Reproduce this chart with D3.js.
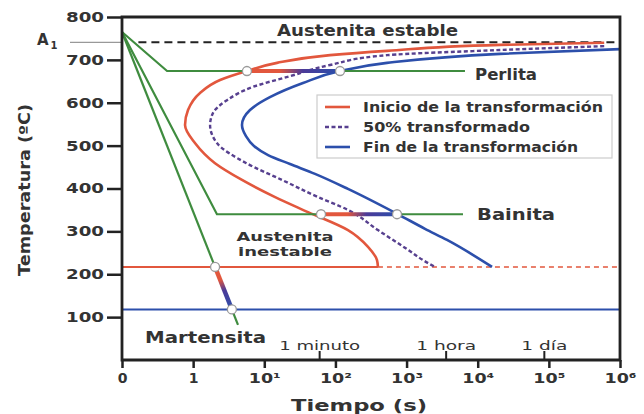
<!DOCTYPE html>
<html>
<head>
<meta charset="utf-8">
<script src="https://cdn.jsdelivr.net/npm/d3@7"></script>
<style>
  body { margin: 0; background: #fff; }
  text { font-family: "DejaVu Sans", Verdana, sans-serif; fill: #333; }
</style>
</head>
<body>
<svg id="chart" width="644" height="414"></svg>
<script>
// axis ticks
const yTicks = [100, 200, 300, 400, 500, 600, 700, 800];
const xTickValues = [0.1, 1, 10, 100, 1000, 1e4, 1e5, 1e6];
const xTickLabels = ["0", "1", "10¹", "10²", "10³", "10⁴", "10⁵", "10⁶"];
const timeValues = [60, 3600, 86400];
const timeLabels = ["1 minuto", "1 hora", "1 día"];

// temperatures (ºC)
const A1 = 741;
const Ms = 217;
const Mf = 118;

// TTT curves [time s, temp ºC], ordered from top to bottom
const inicio = [[6e5, 740], [2.06e4, 735], [531, 721], [84, 711], [15.1, 693], [5.7, 674], [2.39, 653],
  [1.25, 623], [0.847, 583], [0.769, 548], [1.06, 506], [2.03, 459], [4.86, 420], [14.2, 380],
  [41.2, 345], [150, 303], [287, 264], [384, 233], [396, 217]];
const mitad = [[6e5, 732], [2.06e4, 723], [531, 711], [84, 688], [23, 662], [6.93, 637], [2.99, 606],
  [1.9, 576], [1.73, 548], [2.16, 506], [5.6, 459], [17.7, 420], [56.9, 380], [150, 350],
  [396, 303], [1047, 257], [1702, 233], [2512, 217]];
const fin = [[1e6, 725], [2.06e4, 714], [531, 693], [116, 674], [35, 646], [12, 613], [6.3, 583],
  [4.86, 548], [5.53, 522], [7.16, 499], [11.3, 478], [23, 457], [51.6, 434], [150, 399], [734, 341],
  [1815, 306], [3700, 280], [15900, 217]];

// cooling paths
const perlita = [[0.1, 765], [0.43, 674], [6620, 674]];
const bainita = [[0.1, 765], [2.16, 340], [6210, 340]];
const martensita = [[0.1, 765], [4.27, 82]];
const perlitaMarks = [5.7, 116];
const bainitaMarks = [62.7, 734];

const legendLabels = ["Inicio de la transformación", "50% transformado", "Fin de la transformación"];

const red = "#e2573d", purple = "#57408f", blue = "#2c4fab", green = "#3f8c3f", dark = "#222";

const svg = d3.select("#chart");
const x = d3.scaleLog().domain([0.1, 1e6]).range([122, 620]);
const y = d3.scaleLinear().domain([0, 800]).range([360, 17]);

const line = d3.line().x(d => x(d[0])).y(d => y(d[1]));
// temperature falls along each curve, so a monotone-in-y curve stays smooth
const smooth = d3.line().x(d => x(d[0])).y(d => y(d[1])).curve(d3.curveMonotoneY);

// gradients for transformation segments
const defs = svg.append("defs");
function grad(id, x1, y1, x2, y2, stops) {
  const g = defs.append("linearGradient").attr("id", id).attr("gradientUnits", "userSpaceOnUse")
    .attr("x1", x1).attr("y1", y1).attr("x2", x2).attr("y2", y2);
  stops.forEach(s => g.append("stop").attr("offset", s[0]).attr("stop-color", s[1]));
}

// stretched bold label helper
function label(t, xx, yy, fs, len, opts = {}) {
  const el = svg.append("text").attr("x", xx).attr("y", yy).attr("font-size", fs)
    .attr("font-weight", opts.weight || "bold").attr("fill", opts.fill || "#3a3a3a")
    .attr("text-anchor", opts.anchor || "start").text(t);
  if (len) el.attr("textLength", len).attr("lengthAdjust", "spacingAndGlyphs");
  return el;
}

// A1 reference
svg.append("line").attr("x1", 70).attr("x2", x(0.1)).attr("y1", y(A1)).attr("y2", y(A1))
  .attr("stroke", "#999").attr("stroke-width", 1.2);
svg.append("text").attr("x", 37).attr("y", y(A1) + 3).attr("font-size", 15).attr("font-weight", "bold")
  .attr("fill", "#444").text("A").append("tspan").attr("font-size", 10).attr("dx", 2).attr("dy", 4).text("1");
svg.append("line").attr("x1", x(0.17)).attr("x2", x(1e6)).attr("y1", y(A1)).attr("y2", y(A1))
  .attr("stroke", dark).attr("stroke-width", 2).attr("stroke-dasharray", "8,5");

// Ms / Mf
svg.append("line").attr("x1", x(0.1)).attr("x2", x(396)).attr("y1", y(Ms)).attr("y2", y(Ms))
  .attr("stroke", red).attr("stroke-width", 2);
svg.append("line").attr("x1", x(396)).attr("x2", x(1e6)).attr("y1", y(Ms)).attr("y2", y(Ms))
  .attr("stroke", red).attr("stroke-width", 1.6).attr("stroke-dasharray", "5,4");
svg.append("line").attr("x1", x(0.1)).attr("x2", x(1e6)).attr("y1", y(Mf)).attr("y2", y(Mf))
  .attr("stroke", blue).attr("stroke-width", 2);

// TTT curves
svg.append("path").datum(inicio).attr("d", smooth).attr("fill", "none").attr("stroke", red).attr("stroke-width", 2.6);
svg.append("path").datum(mitad).attr("d", smooth).attr("fill", "none").attr("stroke", purple)
  .attr("stroke-width", 2.4).attr("stroke-dasharray", "4,2.5");
svg.append("path").datum(fin).attr("d", smooth).attr("fill", "none").attr("stroke", blue).attr("stroke-width", 2.6);

// cooling paths
[perlita, bainita, martensita].forEach(p => {
  svg.append("path").datum(p).attr("d", line).attr("fill", "none").attr("stroke", green).attr("stroke-width", 2.2);
});

// transformation segments
const segStops = [[0, red], [0.35, red], [0.6, "#4b3a98"], [1, blue]];
grad("gP", x(perlitaMarks[0]), 0, x(perlitaMarks[1]), 0, segStops);
grad("gB", x(bainitaMarks[0]), 0, x(bainitaMarks[1]), 0, segStops);
svg.append("line").attr("x1", x(perlitaMarks[0])).attr("x2", x(perlitaMarks[1]))
  .attr("y1", y(perlita[1][1])).attr("y2", y(perlita[1][1])).attr("stroke", "url(#gP)").attr("stroke-width", 4);
svg.append("line").attr("x1", x(bainitaMarks[0])).attr("x2", x(bainitaMarks[1]))
  .attr("y1", y(bainita[1][1])).attr("y2", y(bainita[1][1])).attr("stroke", "url(#gB)").attr("stroke-width", 4);

// martensite crossing points along the straight cooling line
const m0 = [x(martensita[0][0]), y(martensita[0][1])], m1 = [x(martensita[1][0]), y(martensita[1][1])];
const atY = yy => m0[0] + (m1[0] - m0[0]) * (yy - m0[1]) / (m1[1] - m0[1]);
const ms = [atY(y(Ms)), y(Ms)], mf = [atY(y(Mf)), y(Mf)];
grad("gM", ms[0], ms[1], mf[0], mf[1], [[0, red], [0.3, red], [0.55, "#4b3a98"], [1, blue]]);
svg.append("line").attr("x1", ms[0]).attr("y1", ms[1]).attr("x2", mf[0]).attr("y2", mf[1])
  .attr("stroke", "url(#gM)").attr("stroke-width", 4.5);

// marker circles
const marks = [
  [x(perlitaMarks[0]), y(perlita[1][1])], [x(perlitaMarks[1]), y(perlita[1][1])],
  [x(bainitaMarks[0]), y(bainita[1][1])], [x(bainitaMarks[1]), y(bainita[1][1])], ms, mf];
svg.selectAll(".mk").data(marks).join("circle").attr("class", "mk")
  .attr("cx", d => d[0]).attr("cy", d => d[1]).attr("r", 4.5)
  .attr("fill", "#fff").attr("stroke", "#999").attr("stroke-width", 1.3);

// legend
const lg = svg.append("g").attr("transform", "translate(317,95)");
lg.append("rect").attr("width", 295).attr("height", 63).attr("fill", "#fff").attr("stroke", "#ccc").attr("stroke-width", 1.2);
const lgColors = [red, purple, blue], lgDash = [null, "4,2.5", null], lgLen = [240, 167, 215];
legendLabels.forEach((l, i) => {
  const yy = 12 + i * 20;
  lg.append("line").attr("x1", 8).attr("x2", 33).attr("y1", yy).attr("y2", yy)
    .attr("stroke", lgColors[i]).attr("stroke-width", 2.6).attr("stroke-dasharray", lgDash[i]);
  lg.append("text").attr("x", 46).attr("y", yy + 5).attr("font-size", 13.5).attr("font-weight", "bold")
    .attr("fill", "#444").attr("textLength", lgLen[i]).attr("lengthAdjust", "spacingAndGlyphs").text(l);
});

// region labels
label("Austenita estable", 277, 36, 15.5, 181);
label("Perlita", 475, 80, 16, 62);
label("Bainita", 477, 220, 16, 78);
label("Martensita", 145, 343, 15.5, 121);
label("Austenita", 285, 241, 12.8, 97, { anchor: "middle" });
label("inestable", 285, 256, 12.8, 94, { anchor: "middle" });

// time reference marks
const timeLen = [81, 60, 46];
timeValues.forEach((t, i) => {
  svg.append("line").attr("x1", x(t)).attr("x2", x(t)).attr("y1", 351).attr("y2", 360)
    .attr("stroke", dark).attr("stroke-width", 2);
  label(timeLabels[i], x(t), 350, 11.5, timeLen[i], { anchor: "middle", weight: "normal", fill: "#333" });
});

// axes
const yAxis = svg.append("g").attr("transform", `translate(${x(0.1)},0)`)
  .call(d3.axisLeft(y).tickValues(yTicks).tickSize(15).tickPadding(3));
const xAxis = svg.append("g").attr("transform", `translate(0,${y(0)})`)
  .call(d3.axisBottom(x).tickValues(xTickValues).tickFormat((d, i) => xTickLabels[i]).tickSize(8).tickPadding(5));
[yAxis, xAxis].forEach(a => {
  a.select(".domain").remove();
  a.selectAll(".tick line").attr("stroke", dark).attr("stroke-width", 2.5);
  a.selectAll(".tick text").attr("font-size", 14).attr("font-weight", "bold").attr("fill", "#444")
    .style("font-family", "'DejaVu Sans', sans-serif");
});
yAxis.selectAll(".tick text").attr("textLength", 38).attr("lengthAdjust", "spacingAndGlyphs");
xAxis.selectAll(".tick text").filter((d, i) => xTickLabels[i].length > 1)
  .attr("textLength", 32).attr("lengthAdjust", "spacingAndGlyphs");

// frame
svg.append("path")
  .attr("d", `M${x(0.1)},${y(800)}H${x(1e6)}V${y(0)}H${x(0.1)}Z`)
  .attr("fill", "none").attr("stroke", dark).attr("stroke-width", 2.8);

// axis titles
label("Tiempo (s)", 359, 411, 15.5, 136, { anchor: "middle", fill: "#222" });
svg.append("text").attr("transform", "translate(30,190) rotate(-90)").attr("text-anchor", "middle")
  .attr("font-size", 15).attr("font-weight", "bold").attr("fill", "#222")
  .attr("textLength", 172).attr("lengthAdjust", "spacingAndGlyphs").text("Temperatura (ºC)");
</script>
</body>
</html>
